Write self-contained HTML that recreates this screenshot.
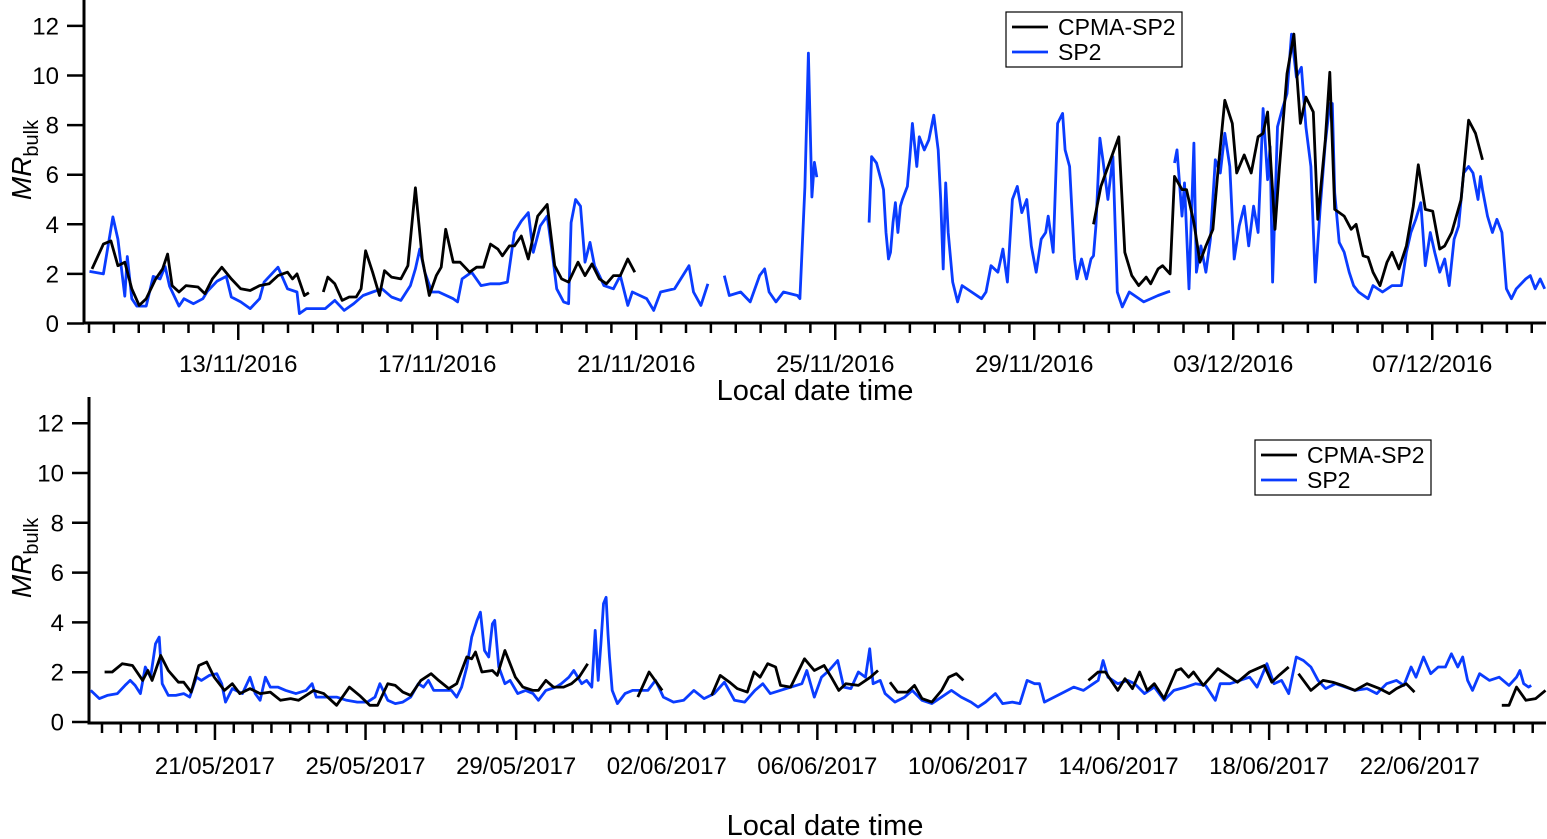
<!DOCTYPE html>
<html><head><meta charset="utf-8">
<style>
html,body{margin:0;padding:0;background:#fff;}
svg{display:block;font-family:"Liberation Sans",Arial,sans-serif;}
</style></head>
<body>
<svg id="chart" width="1547" height="839" viewBox="0 0 1547 839" xmlns="http://www.w3.org/2000/svg">
<g id="top"></g>
<g id="bot"></g>
</svg>
<script>
// ---- data: time in days from panel start, value MR_bulk (null = gap) ----
const topYTicks = [0,2,4,6,8,10,12];
const topXLabels = ["13/11/2016","17/11/2016","21/11/2016","25/11/2016","29/11/2016","03/12/2016","07/12/2016"];
const topXLabelDays = [3,7,11,15,19,23,27];
const botXLabels = ["21/05/2017","25/05/2017","29/05/2017","02/06/2017","06/06/2017","10/06/2017","14/06/2017","18/06/2017","22/06/2017"];
const botXLabelDays = [3,7,11,15,19,23,27,31,35];

const topSpT = [0.01,0.29,0.48,0.58,0.72,0.77,0.86,0.96,1.15,1.29,1.43,1.53,1.62,1.81,1.91,2.10,2.29,2.38,2.57,2.76,2.86,3.05,3.24,3.43,3.52,3.80,3.99,4.18,4.23,4.37,4.75,4.94,5.13,5.32,5.51,5.70,5.89,6.08,6.27,6.46,6.56,6.65,6.75,6.89,7.03,7.32,7.41,7.50,7.69,7.88,8.07,8.26,8.41,8.55,8.69,8.83,8.93,9.07,9.21,9.31,9.40,9.54,9.64,9.69,9.78,9.88,9.97,10.07,10.16,10.26,10.35,10.54,10.68,10.83,10.92,11.21,11.35,11.49,11.77,12.06,12.15,12.30,12.44,12.6,12.77,12.87,13.10,13.29,13.48,13.58,13.67,13.81,13.96,14.24,14.29,14.39,14.46,14.53,14.58,14.63,15.2,15.68,15.73,15.83,15.92,15.97,16.02,16.07,16.11,16.16,16.21,16.26,16.31,16.35,16.45,16.50,16.55,16.64,16.69,16.79,16.88,16.98,17.07,17.12,17.17,17.22,17.27,17.36,17.46,17.55,17.74,17.94,18.03,18.13,18.27,18.37,18.46,18.56,18.66,18.75,18.85,18.94,19.04,19.14,19.23,19.28,19.38,19.47,19.57,19.62,19.71,19.81,19.86,19.95,20.05,20.14,20.19,20.24,20.32,20.38,20.48,20.58,20.67,20.77,20.91,21.20,21.49,21.68,21.73,21.78,21.82,21.87,21.97,22.02,22.11,22.21,22.26,22.35,22.45,22.54,22.64,22.74,22.83,22.93,23.02,23.12,23.22,23.31,23.41,23.50,23.60,23.69,23.74,23.79,23.89,23.98,24.08,24.17,24.27,24.37,24.46,24.56,24.65,24.75,24.85,24.94,24.99,25.04,25.13,25.23,25.33,25.42,25.52,25.71,25.81,26.00,26.19,26.38,26.48,26.57,26.67,26.77,26.86,26.96,27.05,27.15,27.25,27.34,27.44,27.53,27.63,27.73,27.82,27.92,27.97,28.01,28.11,28.21,28.30,28.40,28.49,28.59,28.69,28.88,28.97,29.07,29.17,29.26];
const topSpV = [2.1,2.0,4.3,3.4,1.1,2.7,1.0,0.7,0.7,1.9,1.8,2.3,1.5,0.7,1.0,0.8,1.0,1.3,1.7,1.9,1.07,0.87,0.6,1.0,1.67,2.27,1.4,1.27,0.4,0.6,0.6,0.93,0.53,0.8,1.13,1.27,1.4,1.07,0.93,1.53,2.2,3.0,2.07,1.27,1.27,1.0,0.87,1.8,2.07,1.53,1.6,1.6,1.67,3.67,4.13,4.47,2.87,3.93,4.33,2.87,1.4,0.87,0.8,4.07,5.0,4.73,2.47,3.27,2.33,1.93,1.53,1.4,1.93,0.73,1.27,1.0,0.53,1.27,1.4,2.33,1.27,0.73,1.6,null,1.93,1.13,1.27,0.87,1.93,2.2,1.27,0.87,1.27,1.13,1.0,5.5,10.9,5.1,6.5,5.9,null,4.07,6.73,6.47,5.8,5.4,3.67,2.6,2.87,4.07,4.87,3.67,4.73,5.0,5.53,6.73,8.07,6.33,7.53,7.0,7.4,8.4,7.0,5.0,2.2,5.67,3.67,1.67,0.87,1.53,1.27,1.0,1.27,2.33,2.07,3.0,1.67,5.0,5.53,4.47,5.0,3.13,2.07,3.4,3.67,4.33,2.87,8.07,8.47,7.0,6.33,2.6,1.8,2.6,1.8,2.6,2.73,3.93,7.47,6.6,5.0,6.73,1.27,0.67,1.27,0.87,1.13,1.27,1.3,null,6.47,7.0,4.33,5.67,1.4,7.27,2.07,3.13,2.07,3.4,6.6,6.07,7.67,6.33,2.6,3.93,4.73,3.13,4.73,3.67,8.67,5.8,7.13,1.67,7.93,8.6,9.27,11.67,9.93,10.33,7.93,6.33,1.67,4.73,7.27,8.87,8.87,5.27,3.27,2.87,2.07,1.53,1.27,1.0,1.53,1.27,1.53,1.53,2.87,3.67,4.2,4.87,2.33,3.67,2.87,2.07,2.6,1.53,3.4,3.93,6.07,6.33,6.07,5.0,5.93,5.4,4.33,3.67,4.2,3.67,1.4,1.0,1.4,1.8,1.93,1.4,1.8,1.4];

const topCpT = [0.06,0.29,0.44,0.58,0.72,0.86,1.01,1.15,1.34,1.48,1.58,1.67,1.81,1.95,2.19,2.33,2.48,2.67,2.86,3.05,3.24,3.43,3.62,3.80,3.99,4.09,4.18,4.33,4.42,4.55,4.71,4.80,4.94,5.09,5.23,5.37,5.47,5.56,5.70,5.84,5.94,6.08,6.27,6.41,6.56,6.70,6.84,6.98,7.08,7.17,7.32,7.46,7.65,7.79,7.93,8.07,8.22,8.31,8.45,8.55,8.69,8.83,9.02,9.21,9.36,9.50,9.64,9.83,9.97,10.11,10.26,10.40,10.54,10.68,10.83,10.97,15.0,20.19,20.34,20.58,20.70,20.82,20.96,21.10,21.25,21.34,21.49,21.58,21.73,21.82,21.97,22.06,22.21,22.33,22.45,22.59,22.69,22.83,22.98,23.07,23.22,23.36,23.50,23.60,23.69,23.84,23.93,24.08,24.22,24.35,24.46,24.61,24.70,24.85,24.94,25.04,25.23,25.37,25.47,25.61,25.71,25.81,25.95,26.09,26.19,26.33,26.48,26.62,26.72,26.86,27.01,27.15,27.25,27.39,27.58,27.73,27.87,28.01];
const topCpV = [2.2,3.2,3.33,2.33,2.47,1.4,0.73,1.0,1.8,2.2,2.8,1.53,1.27,1.53,1.47,1.2,1.8,2.27,1.8,1.4,1.33,1.53,1.6,1.93,2.07,1.8,2.0,1.13,1.24,null,1.27,1.87,1.6,0.93,1.07,1.07,1.4,2.93,2.07,1.13,2.13,1.87,1.8,2.33,5.47,2.6,1.13,1.93,2.27,3.8,2.47,2.47,2.07,2.27,2.27,3.2,3.0,2.73,3.13,3.13,3.53,2.6,4.33,4.8,2.33,1.8,1.67,2.47,1.93,2.4,1.8,1.6,1.93,1.93,2.6,2.07,null,4.0,5.53,6.87,7.53,2.87,1.93,1.53,1.87,1.6,2.2,2.33,2.0,5.93,5.4,5.4,4.07,2.47,3.13,3.8,6.07,9.0,8.07,6.07,6.8,6.07,7.53,7.67,8.53,3.8,6.33,10.07,11.67,8.07,9.13,8.53,4.2,7.4,10.13,4.6,4.33,3.8,4.0,2.73,2.67,2.07,1.53,2.47,2.87,2.2,3.13,4.73,6.4,4.6,4.53,3.0,3.13,3.67,5.0,8.2,7.67,6.6];

const botSpT = [-0.30,-0.07,0.14,0.41,0.61,0.75,0.88,1.02,1.15,1.29,1.42,1.52,1.60,1.76,1.96,2.17,2.33,2.51,2.64,2.85,3.05,3.18,3.28,3.46,3.73,3.93,4.07,4.20,4.34,4.47,4.67,4.88,5.15,5.42,5.58,5.69,5.96,6.23,6.50,6.78,7.05,7.25,7.38,7.59,7.79,7.99,8.20,8.40,8.54,8.67,8.81,9.08,9.28,9.42,9.55,9.69,9.82,9.96,10.05,10.16,10.27,10.37,10.43,10.54,10.70,10.84,11.04,11.25,11.45,11.59,11.79,12.06,12.20,12.40,12.53,12.74,12.87,13.01,13.10,13.18,13.25,13.32,13.39,13.44,13.48,13.55,13.69,13.89,14.09,14.30,14.50,14.70,14.91,15.18,15.45,15.72,15.99,16.26,16.53,16.80,17.07,17.34,17.55,17.75,
18.59,18.72,18.92,19.11,19.31,19.54,19.70,19.89,20.09,20.28,20.39,20.48,20.67,20.80,21.06,21.32,21.52,21.78,22.04,22.30,22.56,22.82,23.08,23.27,23.47,23.73,23.92,24.18,24.38,24.57,24.77,24.90,25.03,25.29,25.55,25.81,26.07,26.33,26.46,26.59,26.72,26.98,27.24,27.43,27.69,27.95,28.21,28.47,28.79,29.05,29.31,29.57,29.70,29.96,30.22,30.48,30.68,30.94,31.13,31.33,31.52,31.72,31.91,32.11,32.30,32.50,32.76,33.02,33.28,33.60,33.86,34.12,34.38,34.58,34.77,34.90,35.10,35.29,35.49,35.68,35.84,36.01,36.14,36.27,36.40,36.59,36.85,37.11,37.37,37.57,37.66,37.76,37.89,37.96];
const botSpV = [1.27,0.94,1.07,1.14,1.47,1.67,1.47,1.14,2.21,1.80,3.14,3.41,1.54,1.07,1.07,1.14,1.00,1.80,1.67,1.87,1.94,1.54,0.80,1.34,1.14,1.80,1.14,0.87,1.80,1.40,1.40,1.27,1.14,1.27,1.54,1.00,1.00,1.00,0.87,0.80,0.80,1.00,1.54,0.87,0.74,0.80,1.00,1.54,1.40,1.67,1.27,1.27,1.27,1.00,1.40,2.21,3.41,4.08,4.41,2.87,2.61,3.94,4.08,2.21,1.54,1.67,1.14,1.27,1.14,0.87,1.27,1.40,1.54,1.80,2.07,1.54,1.67,1.40,3.68,1.67,3.14,4.75,5.01,3.54,2.61,1.27,0.74,1.14,1.27,1.27,1.27,1.67,1.00,0.80,0.87,1.27,0.94,1.14,1.60,0.87,0.80,1.27,1.54,1.14,
1.54,2.07,1.00,1.80,2.07,2.47,1.40,1.34,2.01,1.80,2.94,1.54,1.67,1.14,0.80,1.00,1.27,0.87,0.74,1.00,1.27,1.00,0.80,0.60,0.80,1.14,0.74,0.80,0.74,1.67,1.54,1.54,0.80,1.00,1.20,1.40,1.27,1.54,1.67,2.47,1.80,1.54,1.67,1.54,1.14,1.40,0.87,1.27,1.40,1.54,1.47,0.87,1.54,1.54,1.67,1.80,1.40,2.34,1.54,1.67,1.14,2.61,2.47,2.21,1.67,1.34,1.54,1.40,1.27,1.34,1.14,1.54,1.67,1.47,2.21,1.80,2.61,1.94,2.21,2.21,2.74,2.21,2.61,1.67,1.27,1.94,1.67,1.80,1.47,1.80,2.07,1.54,1.40,1.47];

const botCpT = [0.07,0.27,0.54,0.81,1.08,1.22,1.33,1.56,1.76,2.03,2.17,2.37,2.57,2.78,2.98,3.25,3.46,3.66,3.93,4.20,4.47,4.74,5.01,5.22,5.42,5.62,5.89,6.23,6.57,6.84,7.11,7.32,7.59,7.79,7.99,8.20,8.47,8.74,8.94,9.21,9.42,9.69,9.82,9.92,10.09,10.37,10.50,10.70,10.98,11.18,11.45,11.59,11.79,11.99,12.26,12.47,12.67,12.90,13.5,14.23,14.53,14.88,15.5,16.19,16.42,16.67,16.87,17.14,17.32,17.48,17.68,17.89,18.02,18.29,18.66,18.92,19.18,19.37,19.57,19.76,20.09,20.41,20.61,20.8,20.93,21.13,21.39,21.58,21.78,22.04,22.30,22.49,22.69,22.88,23.0,26.20,26.46,26.65,26.98,27.17,27.37,27.56,27.76,27.95,28.21,28.53,28.66,28.86,28.99,29.25,29.64,30.16,30.48,30.68,30.87,31.07,31.26,31.52,31.65,31.78,32.11,32.43,32.69,32.95,33.28,33.60,33.93,34.19,34.38,34.64,34.86,35.0,37.18,37.37,37.57,37.82,38.08,38.34];
const botCpV = [2.01,2.01,2.34,2.27,1.67,2.07,1.67,2.67,2.07,1.60,1.60,1.20,2.27,2.41,1.80,1.27,1.54,1.14,1.34,1.14,1.20,0.87,0.94,0.87,1.07,1.27,1.14,0.67,1.40,1.07,0.67,0.67,1.54,1.47,1.20,1.07,1.67,1.94,1.67,1.34,1.54,2.61,2.54,2.81,2.01,2.07,1.87,2.87,1.80,1.40,1.27,1.27,1.67,1.40,1.40,1.54,1.80,2.34,null,1.00,2.01,1.27,null,1.07,1.87,1.60,1.34,1.20,2.01,1.80,2.34,2.21,1.47,1.40,2.54,2.07,2.27,1.80,1.27,1.54,1.47,1.80,2.07,null,1.60,1.20,1.20,1.47,0.94,0.80,1.27,1.80,1.94,1.67,null,1.67,2.01,2.01,1.27,1.74,1.34,2.01,1.27,1.54,0.94,2.07,2.14,1.80,2.01,1.47,2.14,1.60,2.01,2.14,2.27,1.60,1.87,2.21,null,1.94,1.27,1.67,1.60,1.47,1.27,1.54,1.34,1.14,1.34,1.54,1.20,null,0.67,0.67,1.40,0.87,0.94,1.27];

// ---- drawing ----
const NS = "http://www.w3.org/2000/svg";
function mk(tag, attrs, parent){
  const e = document.createElementNS(NS, tag);
  for (const k in attrs) e.setAttribute(k, attrs[k]);
  parent.appendChild(e);
  return e;
}
function panel(g, cfg){
  const xS = d => cfg.x0 + d * cfg.pxDay;
  const yS = v => cfg.y0 - v * cfg.pxUnit;
  const ya = mk('line', {x1:cfg.yAxisX, y1:cfg.yTop, x2:cfg.yAxisX, y2:cfg.xAxisY+1.5, stroke:'#000','stroke-width':3}, g);
  
  
  const xa = mk('line', {x1:cfg.yAxisX-1.5, y1:cfg.xAxisY, x2:1546, y2:cfg.xAxisY, stroke:'#000','stroke-width':3}, g);
  
  
  topYTicks.forEach(v => {
    const t = mk('line', {x1:cfg.yAxisX-17, y1:yS(v), x2:cfg.yAxisX, y2:yS(v), stroke:'#000','stroke-width':2.5}, g);
    
    
    const l = mk('text', {x:cfg.yAxisX-25, y:yS(v)+8.5, 'text-anchor':'end','font-size':24}, g);
    l.textContent = v;
    
    
  });
  for (let h = 0; xS(h/2) <= 1545; h++) {
    const major = (h % 8 === 6);
    const t = mk('line', {x1:xS(h/2), y1:cfg.xAxisY, x2:xS(h/2), y2:cfg.xAxisY + (major?17:10), stroke:'#000','stroke-width':2.5}, g);
    
    
  }
  cfg.labels.forEach((s, i) => {
    const l = mk('text', {x:xS(cfg.labelDays[i]), y:cfg.labelY, 'text-anchor':'middle','font-size':24}, g);
    l.textContent = s;
    
    
  });
  const xt = mk('text', {x:cfg.titleX, y:cfg.titleY, 'text-anchor':'middle','font-size':29}, g);
  xt.textContent = 'Local date time';
  
  
  const yt = mk('text', {transform:`translate(31,${cfg.yTitleY}) rotate(-90)`, 'text-anchor':'middle','font-size':28}, g);
  yt.innerHTML = '<tspan font-style="italic">MR</tspan><tspan font-size="20" dy="7">bulk</tspan>';
  
  
  function series(T, V, color, name){
    let d = '', pen = false;
    for (let i = 0; i < T.length; i++) {
      if (V[i] === null) { pen = false; continue; }
      d += (pen ? 'L' : 'M') + xS(T[i]).toFixed(1) + ' ' + yS(V[i]).toFixed(1);
      pen = true;
    }
    const p = mk('path', {d:d, fill:'none', stroke:color, 'stroke-width':2.8, 'stroke-linejoin':'round'}, g);
    
    
  }
  series(cfg.spT, cfg.spV, '#0a3cff', 'sp2-line');
  series(cfg.cpT, cfg.cpV, '#000000', 'cpma-sp2-line');
  const lg = mk('g', {}, g);
  
  
  mk('rect', {x:cfg.legX, y:cfg.legY, width:176, height:55, fill:'#fff', stroke:'#000', 'stroke-width':1.2}, lg);
  mk('line', {x1:cfg.legX+6, y1:cfg.legY+15, x2:cfg.legX+42, y2:cfg.legY+15, stroke:'#000','stroke-width':2.8}, lg);
  mk('line', {x1:cfg.legX+6, y1:cfg.legY+40, x2:cfg.legX+42, y2:cfg.legY+40, stroke:'#0a3cff','stroke-width':2.8}, lg);
  const a = mk('text', {x:cfg.legX+52, y:cfg.legY+23, 'font-size':23}, lg);
  a.textContent = 'CPMA-SP2';
  
  
  const b = mk('text', {x:cfg.legX+52, y:cfg.legY+48, 'font-size':23}, lg);
  b.textContent = 'SP2';
  
  
}
panel(document.getElementById('top'), {
  x0:89, pxDay:49.75, y0:323.5, pxUnit:24.8, yAxisX:84, yTop:0, xAxisY:323,
  labels:topXLabels, labelDays:topXLabelDays, labelY:372, titleX:815, titleY:400, yTitleY:160,
  spT:topSpT, spV:topSpV, cpT:topCpT, cpV:topCpV, legX:1006, legY:12
});
panel(document.getElementById('bot'), {
  x0:102, pxDay:37.65, y0:722, pxUnit:24.9, yAxisX:89, yTop:397, xAxisY:723,
  labels:botXLabels, labelDays:botXLabelDays, labelY:774, titleX:825, titleY:835, yTitleY:558,
  spT:botSpT, spV:botSpV, cpT:botCpT, cpV:botCpV, legX:1255, legY:440
});
</script>
</body></html>
